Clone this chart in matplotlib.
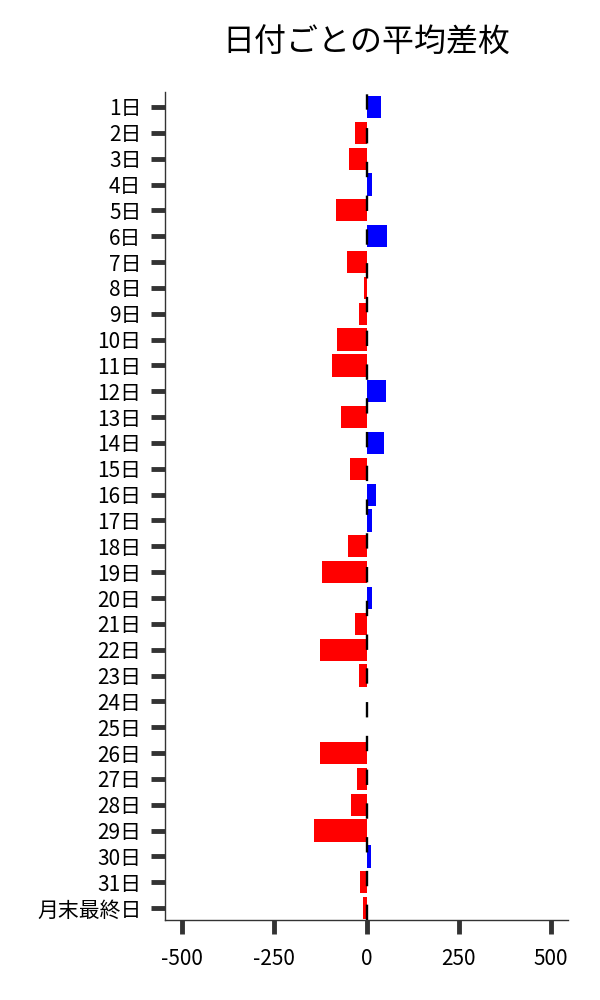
import matplotlib
matplotlib.use("Agg")
import matplotlib.pyplot as plt
import numpy as np

plt.rcParams['font.family'] = ['Noto Sans CJK JP', 'DejaVu Sans']

categories = [f"{d}日" for d in range(1, 32)] + ["月末最終日"]
values = [39, -31, -49, 14, -83, 55, -53, -7, -20, -80, -94, 53, -69, 47, -45, 25,
          14, -50, -121, 14, -31, -126, -20, 2, 2, -126, -26, -42, -142, 11, -18, -9]
title = "日付ごとの平均差枚"
xticks = [-500, -250, 0, 250, 500]

fig = plt.figure(figsize=(6, 10), dpi=100)
ax = fig.add_axes([0.275, 0.08, 0.672, 0.828])

y = np.arange(len(categories))
colors = ['#0000ff' if v > 0 else '#ff0000' for v in values]
ax.barh(y, values, height=0.86, color=colors, zorder=2)
ax.axvline(0, color='black', lw=1.7, dashes=(6.5, 7.8), zorder=3)

ax.set_yticks(y)
ax.set_yticklabels(categories)
ax.set_ylim(len(categories) - 0.54, -0.58)
ax.set_xlim(-546, 546)
ax.set_xticks(xticks)
ax.set_xticklabels([str(t) for t in xticks])

for s in ['top', 'right']:
    ax.spines[s].set_visible(False)
for s in ['left', 'bottom']:
    ax.spines[s].set_color('#333333')
    ax.spines[s].set_linewidth(1.0)

ax.tick_params(axis='both', which='major', direction='out', length=10, width=3.5,
               color='#333333', labelsize=15, labelcolor='black')
ax.tick_params(axis='y', pad=7)
ax.tick_params(axis='x', pad=10)

fig.text(0.61, 0.957, title, ha='center', va='center', fontsize=23)

fig.savefig("out.png", dpi=100)
